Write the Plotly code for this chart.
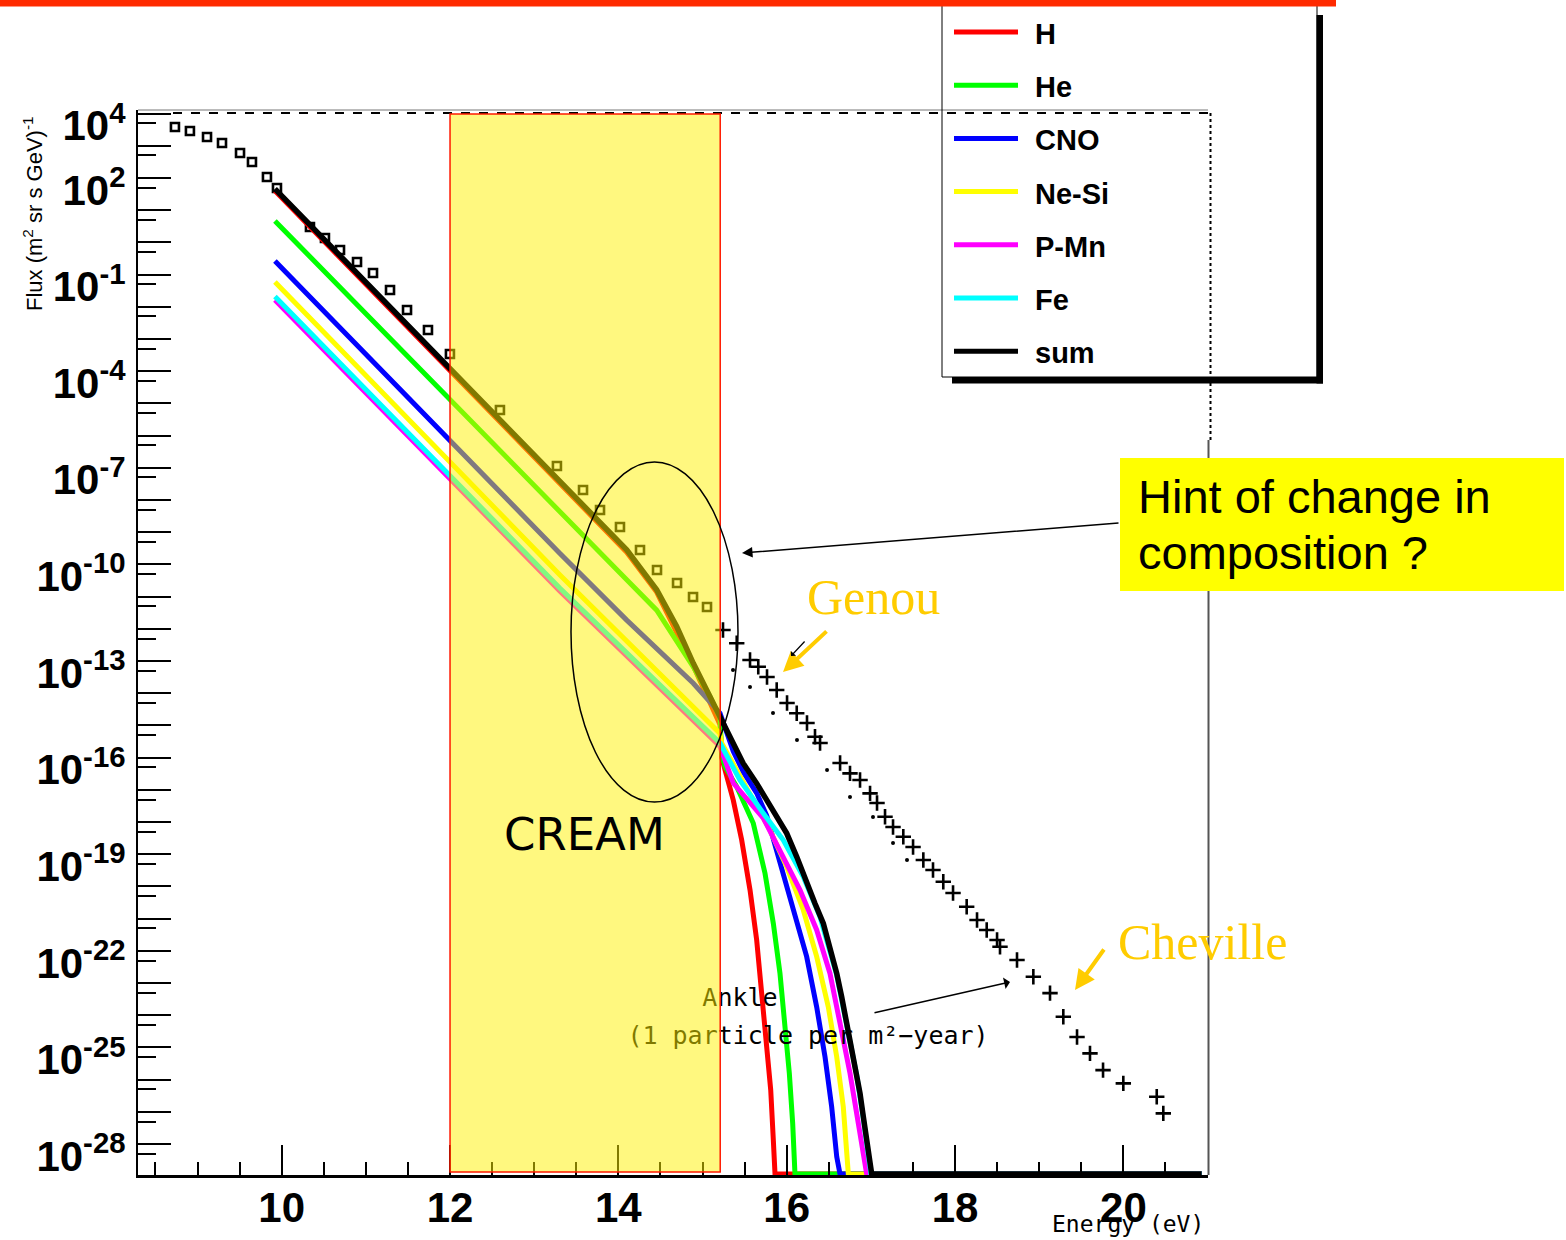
import plotly.graph_objects as go

# ---------------------------------------------------------------------------
# Cosmic-ray flux per component: x = log10(E / eV), values = log10(flux)
# ---------------------------------------------------------------------------
h_energy = [9.92, 12.0, 13.306, 14.099, 14.455, 14.890, 15.208, 15.228, 15.267, 15.365,
            15.465, 15.564, 15.643, 15.703, 15.762, 15.810, 15.841, 15.861, 20.93]
h_logflux = [1.60, -4.00, -7.50, -9.62, -10.86, -13.15, -14.98, -16.00, -16.38, -17.32,
             -18.56, -20.11, -21.66, -23.22, -24.77, -26.32, -27.88, -28.93, -28.93]

he_energy = [9.92, 13.306, 13.702, 14.099, 14.455, 14.693, 14.890, 15.089, 15.208, 15.228,
             15.267, 15.406, 15.603, 15.742, 15.841, 15.920, 15.980, 16.031, 16.071, 16.098, 20.93]
he_logflux = [0.665, -8.41, -9.45, -10.48, -11.42, -12.35, -13.18, -14.11, -14.77, -15.90,
              -16.28, -16.90, -18.04, -19.59, -21.15, -22.70, -24.25, -25.80, -27.36, -28.93, -28.93]

cno_energy = [9.92, 13.306, 14.099, 14.890, 15.208, 15.365, 15.484, 15.643, 15.762, 15.920,
              16.078, 16.237, 16.356, 16.455, 16.534, 16.594, 16.633, 20.93]
cno_logflux = [-0.578, -9.66, -11.73, -13.69, -14.62, -15.80, -16.45, -17.10, -17.80, -19.28,
               -20.63, -22.18, -23.74, -25.29, -26.84, -28.39, -28.93, -28.93]

nesi_energy = [9.92, 13.306, 15.208, 15.228, 15.801, 16.0, 16.197, 16.356, 16.494, 16.594,
               16.672, 16.713, 16.732, 20.93]
nesi_logflux = [-1.23, -10.33, -15.25, -15.55, -18.25, -19.39, -20.73, -22.18, -23.74, -25.29,
                -26.84, -28.39, -28.93, -28.93]

pmn_energy = [9.92, 13.306, 15.208, 15.365, 15.722, 15.959, 16.158, 16.356, 16.514, 16.633,
              16.752, 16.851, 16.930, 16.950, 20.93]
pmn_logflux = [-1.79, -10.83, -15.65, -16.79, -17.88, -19.08, -20.11, -21.35, -22.70, -24.25,
               -25.80, -27.36, -28.70, -28.93, -28.93]

fe_energy = [9.92, 13.306, 15.208, 15.445, 15.722, 15.959, 16.197, 16.395, 16.594, 16.713,
             16.831, 16.910, 16.969, 17.0, 20.93]
fe_logflux = [-1.68, -10.74, -15.55, -16.70, -17.73, -18.56, -19.70, -20.94, -22.75, -24.30,
              -25.85, -27.20, -28.45, -28.93, -28.93]

sum_energy = [9.92, 12.0, 13.306, 13.702, 14.099, 14.455, 14.693, 14.890, 15.089, 15.228,
              15.365, 15.484, 15.643, 15.762, 15.881, 16.0, 16.119, 16.237, 16.336, 16.435,
              16.514, 16.594, 16.653, 16.713, 16.772, 16.831, 16.871, 16.910, 16.950, 16.969,
              17.010, 20.93]
sum_logflux = [1.66, -3.93, -7.43, -8.52, -9.55, -10.79, -11.93, -13.07, -14.11, -14.93,
               -15.56, -16.18, -16.80, -17.32, -17.84, -18.35, -19.08, -19.90, -20.53, -21.15,
               -21.87, -22.70, -23.43, -24.25, -25.03, -25.80, -26.43, -27.15, -27.88, -28.39,
               -28.93, -28.93]

# Measured all-particle flux
data_energy = [8.732, 8.910, 9.113, 9.291, 9.505, 9.647, 9.825, 9.944, 10.336, 10.514,
               10.693, 10.895, 11.085, 11.287, 11.489, 11.738, 11.999, 12.593, 13.270, 13.580,
               13.782, 14.019, 14.257, 14.459, 14.697, 14.887, 15.053, 15.243, 15.406, 15.564,
               15.662, 15.766, 15.881, 16.004, 16.119, 16.241, 16.336, 16.396, 16.634, 16.752,
               16.871, 16.990, 17.073, 17.168, 17.263, 17.385, 17.501, 17.623, 17.738, 17.860,
               17.976, 18.138, 18.261, 18.376, 18.499, 18.534, 18.736, 18.930, 19.128, 19.286,
               19.449, 19.603, 19.758, 19.999, 20.396, 20.474]
data_logflux = [3.584, 3.460, 3.273, 3.087, 2.776, 2.497, 2.031, 1.689, 0.478, 0.137,
                -0.236, -0.609, -0.950, -1.478, -2.099, -2.720, -3.466, -5.205, -6.944, -7.689,
                -8.311, -8.839, -9.553, -10.174, -10.578, -11.012, -11.323, -12.037, -12.450, -12.969,
                -13.177, -13.497, -13.901, -14.304, -14.624, -14.925, -15.351, -15.547, -16.168, -16.488,
                -16.696, -17.109, -17.410, -17.835, -18.155, -18.457, -18.776, -19.180, -19.491, -19.854,
                -20.205, -20.630, -21.043, -21.354, -21.665, -21.873, -22.286, -22.804, -23.311, -24.047,
                -24.677, -25.183, -25.702, -26.115, -26.531, -27.046]

# Second measurement set (lower band)
low_energy = [15.362, 15.564, 15.837, 16.122, 16.479, 16.752, 17.025, 17.263, 17.429]
low_logflux = [-13.280, -13.807, -14.615, -15.453, -16.385, -17.224, -17.845, -18.652, -19.180]

component_names = ["H", "He", "CNO", "Ne-Si", "P-Mn", "Fe", "sum"]
component_colors = ["#ff0000", "#00ff00", "#0000ff", "#ffff00", "#ff00ff", "#00ffff", "#000000"]
component_energy = [h_energy, he_energy, cno_energy, nesi_energy, pmn_energy, fe_energy, sum_energy]
component_logflux = [h_logflux, he_logflux, cno_logflux, nesi_logflux, pmn_logflux, fe_logflux, sum_logflux]

x_tick_values = [10, 12, 14, 16, 18, 20]
y_tick_exponents = list(range(-28, 5))
y_labelled_exponents = [4, 2, -1, -4, -7, -10, -13, -16, -19, -22, -25, -28]

# CREAM energy window (log10 E)
cream_window = [12.0, 15.21]

# ---------------------------------------------------------------------------
# Page geometry helpers (plot area spans 138..1208 px horizontally, 110..1175 px vertically)
# ---------------------------------------------------------------------------
PL, PR, PT, PB = 138, 1208, 110, 1175


def fx(px):
    return (px - PL) / (PR - PL)


def fy(py):
    return (PB - py) / (PB - PT)


fig = go.Figure()

# measured points (under the CREAM window so they pick up its tint)
data_symbols = ["square-open" if e < 15.2 else "cross-thin" for e in data_energy]
data_sizes = [8 if e < 15.2 else 11 for e in data_energy]
fig.add_trace(go.Scatter(
    x=data_energy, y=[10 ** v for v in data_logflux], mode="markers",
    marker=dict(symbol=data_symbols, size=data_sizes, color="black", opacity=1,
                line=dict(color="black", width=2.6)),
    showlegend=False, hoverinfo="skip"))
fig.add_trace(go.Scatter(
    x=low_energy, y=[10 ** v for v in low_logflux], mode="markers",
    marker=dict(symbol="circle", size=4, color="black", opacity=1),
    showlegend=False, hoverinfo="skip"))

# model components
for name, color, xs, ys in zip(component_names, component_colors,
                               component_energy, component_logflux):
    fig.add_trace(go.Scatter(
        x=xs, y=[10 ** v for v in ys], mode="lines", name=name,
        line=dict(color=color, width=5.5 if name == "sum" else 5),
        showlegend=False, hoverinfo="skip"))

# hand-written note of the ankle, also under the tinted window
note_font = dict(family="DejaVu Sans Mono", size=25, color="black")
fig.add_trace(go.Scatter(
    x=[15.445], y=[10 ** -23.53], mode="text", text=["Ankle"],
    textfont=note_font, textposition="middle center", cliponaxis=False,
    showlegend=False, hoverinfo="skip"))
fig.add_trace(go.Scatter(
    x=[16.253], y=[10 ** -24.71], mode="text", text=["(1 particle per m²−year)"],
    textfont=note_font, textposition="middle center", cliponaxis=False,
    showlegend=False, hoverinfo="skip"))

shapes = []
# frame: thin top line, dashed top and right edges
shapes.append(dict(type="line", xref="paper", yref="paper", x0=0, x1=1, y0=1, y1=1,
                   line=dict(color="#777777", width=1)))
shapes.append(dict(type="line", xref="paper", yref="paper", x0=fx(173), x1=fx(1211),
                   y0=fy(113), y1=fy(113), line=dict(color="black", width=2, dash="dash")))
shapes.append(dict(type="line", xref="paper", yref="paper", x0=fx(1210.5), x1=fx(1210.5),
                   y0=fy(113), y1=fy(440), line=dict(color="black", width=2, dash="dot")))
shapes.append(dict(type="line", xref="paper", yref="paper", x0=fx(1208.5), x1=fx(1208.5),
                   y0=fy(440), y1=fy(1175), line=dict(color="#555555", width=2)))

# CREAM window (semi-transparent, drawn over the curves)
shapes.append(dict(type="rect", xref="x", yref="paper", x0=cream_window[0], x1=cream_window[1],
                   y0=fy(1172), y1=fy(114), fillcolor="rgba(255,242,0,0.5)",
                   line=dict(color="#ff1a00", width=1.5), layer="above"))
# ellipse around the knee region
shapes.append(dict(type="circle", xref="paper", yref="paper", x0=fx(571), x1=fx(738),
                   y0=fy(802), y1=fy(462), line=dict(color="black", width=1.5), layer="above"))

# yellow note box
shapes.append(dict(type="rect", xref="paper", yref="paper", x0=fx(1120), x1=fx(1564),
                   y0=fy(591), y1=fy(458), fillcolor="#ffff00", line=dict(width=0), layer="above"))

# legend box with drop shadow
shapes.append(dict(type="rect", xref="paper", yref="paper", x0=fx(1316.5), x1=fx(1323),
                   y0=fy(383.5), y1=fy(15), fillcolor="black", line=dict(width=0), layer="above"))
shapes.append(dict(type="rect", xref="paper", yref="paper", x0=fx(952), x1=fx(1323),
                   y0=fy(383.5), y1=fy(377), fillcolor="black", line=dict(width=0), layer="above"))
shapes.append(dict(type="rect", xref="paper", yref="paper", x0=fx(942), x1=fx(1317),
                   y0=fy(377), y1=fy(4), line=dict(color="black", width=1), layer="above"))

annotations = []
row0, row_step = 32, 53.2
for i, (name, color) in enumerate(zip(component_names, component_colors)):
    ry = row0 + i * row_step
    shapes.append(dict(type="line", xref="paper", yref="paper", x0=fx(954), x1=fx(1018),
                       y0=fy(ry), y1=fy(ry), line=dict(color=color, width=5), layer="above"))
    annotations.append(dict(xref="paper", yref="paper", x=fx(1033), y=fy(ry + 2),
                            xanchor="left", yanchor="middle", text=name, showarrow=False,
                            font=dict(family="Liberation Sans", size=29, color="black",
                                      weight="bold")))

# red rule along the top of the page
shapes.append(dict(type="rect", xref="paper", yref="paper", x0=fx(0), x1=fx(1336),
                   y0=fy(6.5), y1=fy(0), fillcolor="#ff2a00", line=dict(width=0), layer="above"))


def label(px, py, text, font, **kw):
    d = dict(xref="paper", yref="paper", x=fx(px), y=fy(py), text=text, showarrow=False,
             xanchor="center", yanchor="middle", font=font)
    d.update(kw)
    return d


def arrow(px, py, dx, dy, color, width, head=2, size=1.0):
    return dict(xref="paper", yref="paper", x=fx(px), y=fy(py), ax=dx, ay=dy, text="",
                showarrow=True, arrowhead=head, arrowsize=size, arrowwidth=width,
                arrowcolor=color)


gold = "#ffcc00"
annotations += [
    label(584, 834, "CREAM", dict(family="DejaVu Sans", size=45, color="black")),
    label(873, 597, "Genou", dict(family="Liberation Serif", size=50, color=gold)),
    label(1202, 942, "Cheville", dict(family="Liberation Serif", size=50, color=gold)),
    label(1136, 497, "Hint of change in", dict(family="Liberation Sans", size=47, color="black"),
          xanchor="left"),
    label(1136, 552, "composition ?", dict(family="Liberation Sans", size=47, color="black"),
          xanchor="left"),
    label(33, 214, "Flux (m<sup>2</sup> sr s GeV)<sup>-1</sup>",
          dict(family="Liberation Sans", size=22, color="black"), textangle=-90),
    label(1128, 1224, "Energy (eV)", dict(family="DejaVu Sans Mono", size=23, color="black")),
    arrow(742, 553, 378, -30, "black", 1.5, head=2, size=1.4),
    arrow(783, 672, 45, -42, gold, 4),
    arrow(791, 656, 15, -16, "black", 1.2, head=1),
    arrow(1075, 990, 30, -42, gold, 4),
    arrow(1010, 982, -137, 31, "black", 1.5, head=1, size=1.3),
]

y_ticktext = [f"10<sup>{k}</sup>" if k in y_labelled_exponents else "" for k in y_tick_exponents]

fig.update_layout(
    width=1566, height=1240,
    margin=dict(l=PL, r=1566 - PR, t=PT, b=1240 - PB),
    paper_bgcolor="white", plot_bgcolor="white",
    shapes=shapes, annotations=annotations, showlegend=False,
    xaxis=dict(
        range=[8.293, 21.005], showline=True, linecolor="black", linewidth=2.5,
        showgrid=False, zeroline=False, automargin=False,
        ticks="inside", ticklen=30, tickwidth=1.5, tickcolor="black",
        tickmode="array", tickvals=x_tick_values, ticktext=[str(v) for v in x_tick_values],
        tickfont=dict(family="Liberation Sans", size=42, color="black", weight="bold"),
        ticklabelstandoff=-6,
        minor=dict(ticks="inside", ticklen=13, tickwidth=1.5, tickcolor="black",
                   dtick=0.5, tick0=0, showgrid=False),
    ),
    yaxis=dict(
        type="log", range=[-28.96, 4.11], showline=True, linecolor="black", linewidth=2,
        showgrid=False, zeroline=False, automargin=False,
        ticks="inside", ticklen=33, tickwidth=1.5, tickcolor="black",
        tickmode="array", tickvals=[10.0 ** k for k in y_tick_exponents], ticktext=y_ticktext,
        tickfont=dict(family="Liberation Sans", size=42, color="black", weight="bold"),
        ticklabelshift=12, ticklabelstandoff=2,
        minor=dict(ticks="inside", ticklen=18, tickwidth=1.5, tickcolor="black",
                   tickmode="array", tickvals=[5 * 10.0 ** k for k in range(-29, 4)],
                   showgrid=False),
    ),
)

fig.write_html("out.html")
